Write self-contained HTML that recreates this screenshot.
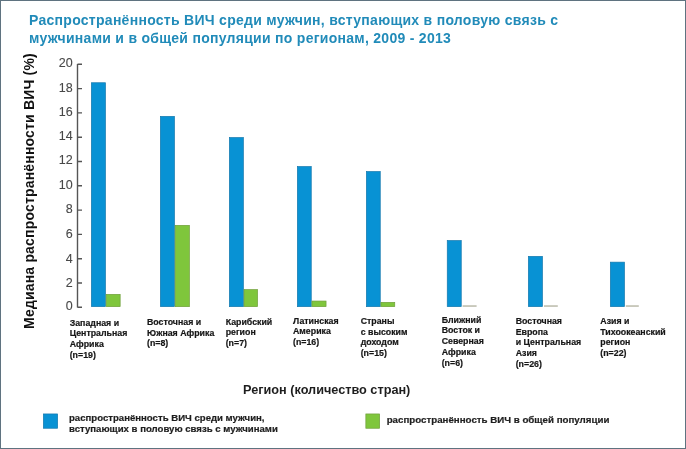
<!DOCTYPE html>
<html>
<head>
<meta charset="utf-8">
<style>
html,body{margin:0;padding:0;background:#fff;}
#c{position:relative;width:686px;height:449px;background:#fff;overflow:hidden;font-family:"Liberation Sans",Arial,sans-serif;}
.t{position:absolute;white-space:nowrap;}
#title{left:29px;top:11.3px;font-size:14px;line-height:18px;font-weight:bold;color:#218bb9;letter-spacing:0.28px;}
#ytitle{position:absolute;left:-121px;top:180.5px;width:300px;height:20px;line-height:20px;text-align:center;font-size:14px;font-weight:bold;color:#111;transform:rotate(-90deg);letter-spacing:0.18px;white-space:nowrap;}
.yl{position:absolute;width:30px;left:42.6px;text-align:right;font-size:12.5px;line-height:14px;color:#484848;-webkit-text-stroke:0.1px #484848;}
.cat{position:absolute;font-size:8.8px;line-height:10.8px;font-weight:bold;color:#161616;-webkit-text-stroke:0.2px #161616;white-space:nowrap;}
#xtitle{left:243px;top:382px;font-size:12.7px;line-height:16px;font-weight:bold;color:#1e1e1e;}
.leg{position:absolute;font-size:9.6px;line-height:10.8px;font-weight:bold;color:#1e1e1e;-webkit-text-stroke:0.2px #1e1e1e;white-space:nowrap;}
svg{position:absolute;left:0;top:0;}
</style>
</head>
<body>
<div id="c">
<div class="t" id="title">Распространённость ВИЧ среди мужчин, вступающих в половую связь с<br>мужчинами и в общей популяции по регионам, 2009 - 2013</div>
<div id="ytitle">Медиана распространённости ВИЧ (%)</div>

<svg width="686" height="449" viewBox="0 0 686 449">
  <g fill="none" stroke="#555" stroke-width="1.4">
    <path d="M77.5 64 V307.5 M77.5 64.3 H82 M77.5 88.6 H82 M77.5 112.9 H82 M77.5 137.2 H82 M77.5 161.5 H82 M77.5 185.8 H82 M77.5 210.1 H82 M77.5 234.4 H82 M77.5 258.7 H82 M77.5 283 H82 M77.5 307.3 H82"/>
  </g>
  <g fill="#0892d4" stroke="#1578ad" stroke-width="0.7">
    <rect x="91.35" y="82.75" width="14.10" height="223.90"/>
    <rect x="160.35" y="116.35" width="14.10" height="190.30"/>
    <rect x="229.35" y="137.55" width="14.00" height="169.10"/>
    <rect x="297.35" y="166.55" width="13.90" height="140.10"/>
    <rect x="366.35" y="171.55" width="13.90" height="135.10"/>
    <rect x="447.25" y="240.55" width="14.00" height="66.10"/>
    <rect x="528.35" y="256.35" width="14.10" height="50.30"/>
    <rect x="610.35" y="262.15" width="14.10" height="44.50"/>
  </g>
  <g fill="#7fc63c" stroke="#6f9e3a" stroke-width="0.7">
    <rect x="106.15" y="294.35" width="14.00" height="12.30"/>
    <rect x="175.15" y="225.35" width="14.20" height="81.30"/>
    <rect x="244.05" y="289.65" width="13.50" height="17.00"/>
    <rect x="311.95" y="301.05" width="14.10" height="5.60"/>
    <rect x="380.95" y="302.35" width="13.80" height="4.30"/>
  </g>
  <g fill="#c2c2b4">
    <rect x="462.6" y="305.2" width="14" height="1.7"/>
    <rect x="544" y="305.2" width="13.8" height="1.7"/>
    <rect x="625.8" y="305.2" width="13" height="1.7"/>
  </g>
  <rect x="43.35" y="413.95" width="14.3" height="14.3" fill="#0892d4" stroke="#1578ad" stroke-width="0.7"/>
  <rect x="365.85" y="413.95" width="13.8" height="14.3" fill="#7fc63c" stroke="#6f9e3a" stroke-width="0.7"/>
</svg>

<div class="yl" style="top:55.7px">20</div>
<div class="yl" style="top:80.8px">18</div>
<div class="yl" style="top:104.6px">16</div>
<div class="yl" style="top:128.9px">14</div>
<div class="yl" style="top:153.2px">12</div>
<div class="yl" style="top:178.2px">10</div>
<div class="yl" style="top:202.4px">8</div>
<div class="yl" style="top:227.3px">6</div>
<div class="yl" style="top:251.6px">4</div>
<div class="yl" style="top:275.5px">2</div>
<div class="yl" style="top:299.0px">0</div>

<div class="cat" style="left:69.7px;top:317.6px">Западная и<br>Центральная<br>Африка<br>(n=19)</div>
<div class="cat" style="left:147.0px;top:316.8px">Восточная и<br>Южная Африка<br>(n=8)</div>
<div class="cat" style="left:225.7px;top:316.5px">Карибский<br>регион<br>(n=7)</div>
<div class="cat" style="left:293.0px;top:315.6px">Латинская<br>Америка<br>(n=16)</div>
<div class="cat" style="left:360.7px;top:315.9px">Страны<br>с высоким<br>доходом<br>(n=15)</div>
<div class="cat" style="left:441.7px;top:314.6px">Ближний<br>Восток и<br>Северная<br>Африка<br>(n=6)</div>
<div class="cat" style="left:515.7px;top:315.9px">Восточная<br>Европа<br>и Центральная<br>Азия<br>(n=26)</div>
<div class="cat" style="left:600.3px;top:315.9px">Азия и<br>Тихоокеанский<br>регион<br>(n=22)</div>

<div class="t" id="xtitle">Регион (количество стран)</div>

<div class="leg" style="left:69px;top:413px">распространённость ВИЧ среди мужчин,<br>вступающих в половую связь с мужчинами</div>
<div class="leg" style="left:386.7px;top:414.6px;font-size:9.73px">распространённость ВИЧ в общей популяции</div>
<div style="position:absolute;left:0;top:0;width:686px;height:449px;box-sizing:border-box;border:1px solid #5f7380;"></div>
</div>
</body>
</html>
